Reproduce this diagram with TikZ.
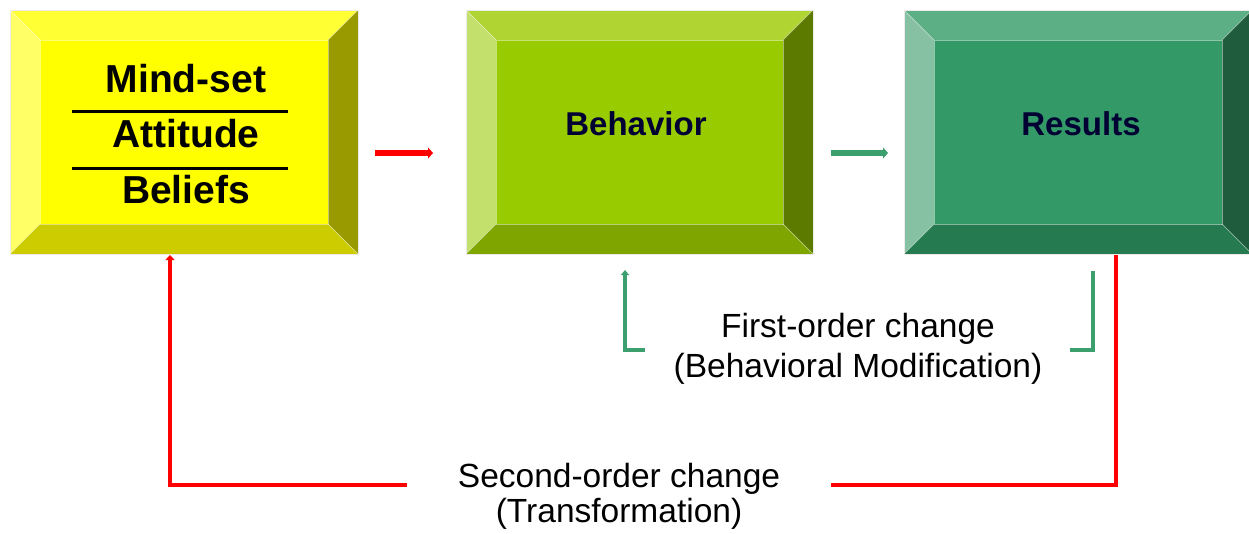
\documentclass[tikz,border=0pt]{standalone}
\usepackage{fontspec}
\setmainfont{Liberation Sans}
\usetikzlibrary{calc,arrows.meta}
\definecolor{yTop}{HTML}{FFFF33}
\definecolor{yLeft}{HTML}{FFFF66}
\definecolor{yIn}{HTML}{FFFF00}
\definecolor{yRight}{HTML}{999900}
\definecolor{yBot}{HTML}{CCCC00}
\definecolor{gTop}{HTML}{B0D432}
\definecolor{gLeft}{HTML}{C4E06C}
\definecolor{gIn}{HTML}{99CC00}
\definecolor{gRight}{HTML}{5C7A00}
\definecolor{gBot}{HTML}{7FA600}
\definecolor{dTop}{HTML}{5CAE84}
\definecolor{dLeft}{HTML}{85C1A2}
\definecolor{dIn}{HTML}{339966}
\definecolor{dRight}{HTML}{1F5C3D}
\definecolor{dBot}{HTML}{267A4F}
\definecolor{navy}{HTML}{000033}
\definecolor{grnline}{HTML}{3C9F6E}
\definecolor{redline}{HTML}{FF0000}
\newcommand\bevelbox[6]{%
  \fill[#2] (#1.north west) -- (#1.north east) -- ($(#1.north east)+(-30,30)$) -- ($(#1.north west)+(30,30)$) -- cycle;
  \fill[#3] (#1.north west) -- ($(#1.north west)+(30,30)$) -- ($(#1.south west)+(30,-30)$) -- (#1.south west) -- cycle;
  \fill[#4] (#1.north east) -- ($(#1.north east)+(-30,30)$) -- ($(#1.south east)+(-30,-30)$) -- (#1.south east) -- cycle;
  \fill[#5] (#1.south west) -- ($(#1.south west)+(30,-30)$) -- ($(#1.south east)+(-30,-30)$) -- (#1.south east) -- cycle;
  \fill[#6] ($(#1.north west)+(30,30)$) rectangle ($(#1.south east)+(-30,-30)$);
  \draw[white, opacity=0.45, line width=1pt] ($(#1.north west)+(30,30)$) rectangle ($(#1.south east)+(-30,-30)$);
  \draw[white, opacity=0.35, line width=0.8pt] (#1.north west) -- ($(#1.north west)+(30,30)$)
     (#1.north east) -- ($(#1.north east)+(-30,30)$)
     (#1.south west) -- ($(#1.south west)+(30,-30)$)
     (#1.south east) -- ($(#1.south east)+(-30,-30)$);
  \draw[black!8, line width=1pt] (#1.north west) rectangle (#1.south east);
}
\tikzset{
  boxnode/.style={rectangle, minimum width=348pt, minimum height=244pt, inner sep=0pt, outer sep=0pt},
  boldtxt/.style={font=\fontsize{39}{41}\selectfont\bfseries, inner sep=0pt},
  navytxt/.style={font=\fontsize{33}{36}\selectfont\bfseries, text=navy, inner sep=0pt},
  labeltxt/.style={align=center, inner sep=0pt, text=black},
  redarrow/.style={draw=redline, line width=5.5pt, -{Triangle[length=5pt,width=11pt]}},
  grnarrow/.style={draw=grnline, line width=5.5pt, -{Triangle[length=5pt,width=11pt]}},
  redloop/.style={draw=redline, line width=4pt},
  grnloop/.style={draw=grnline, line width=3.5pt},
}
\begin{document}
\begin{tikzpicture}[x=1pt,y=-1pt]
\useasboundingbox[fill=white] (0,0) rectangle (1249,533);
\node[boxnode] (A) at (184,132) {};
\node[boxnode, minimum width=347pt] (B) at (639.5,132) {};
\node[boxnode] (C) at (1078,132) {};
\bevelbox{A}{yTop}{yLeft}{yRight}{yBot}{yIn}
\bevelbox{B}{gTop}{gLeft}{gRight}{gBot}{gIn}
\bevelbox{C}{dTop}{dLeft}{dRight}{dBot}{dIn}
% texts in boxes
\node[boldtxt] (mind) at (186,79) {Mind-set};
\node[boldtxt] (att) at (186,134) {Attitude};
\node[boldtxt] (bel) at (186,190) {Beliefs};
\draw[line width=3pt] (72,111) -- (288,111);
\draw[line width=3pt] (72,168) -- (288,168);
\node[navytxt] (beh) at (636,124) {Behavior};
\node[navytxt] (res) at (1081,124) {Results};
% forward arrows
\coordinate (r1) at (375,153);
\coordinate (r2) at (433,153);
\coordinate (g1) at (831,153);
\coordinate (g2) at (888,153);
\draw[redarrow] (r1) -- (r2);
\draw[grnarrow] (g1) -- (g2);
% labels
\node[labeltxt, font=\fontsize{33.5}{40}\selectfont] (first) at (858,349) {First-order change\\(Behavioral Modification)};
\node[labeltxt, font=\fontsize{33.5}{35}\selectfont] (second) at (619,496) {Second-order change\\(Transformation)};
% first-order bracket
\coordinate (f1) at (645,350);
\coordinate (f2) at (625,350);
\coordinate (f3) at (625,270);
\coordinate (f4) at (1093,271);
\coordinate (f5) at (1093,350);
\coordinate (f6) at (1070,350);
\draw[grnloop, -{Triangle[length=5pt,width=8pt]}] (f1) -- (f2) -- (f3);
\draw[grnloop] (f4) -- (f5) -- (f6);
% second-order loop
\coordinate (s1) at (1116,255);
\coordinate (s2) at (1116,485);
\coordinate (s3) at (831,485);
\coordinate (s4) at (407,485);
\coordinate (s5) at (170,485);
\coordinate (s6) at (170,255);
\draw[redloop] (s1) -- (s2) -- (s3);
\draw[redloop, -{Triangle[length=5pt,width=9pt]}] (s4) -- (s5) -- (s6);
\end{tikzpicture}
\end{document}
